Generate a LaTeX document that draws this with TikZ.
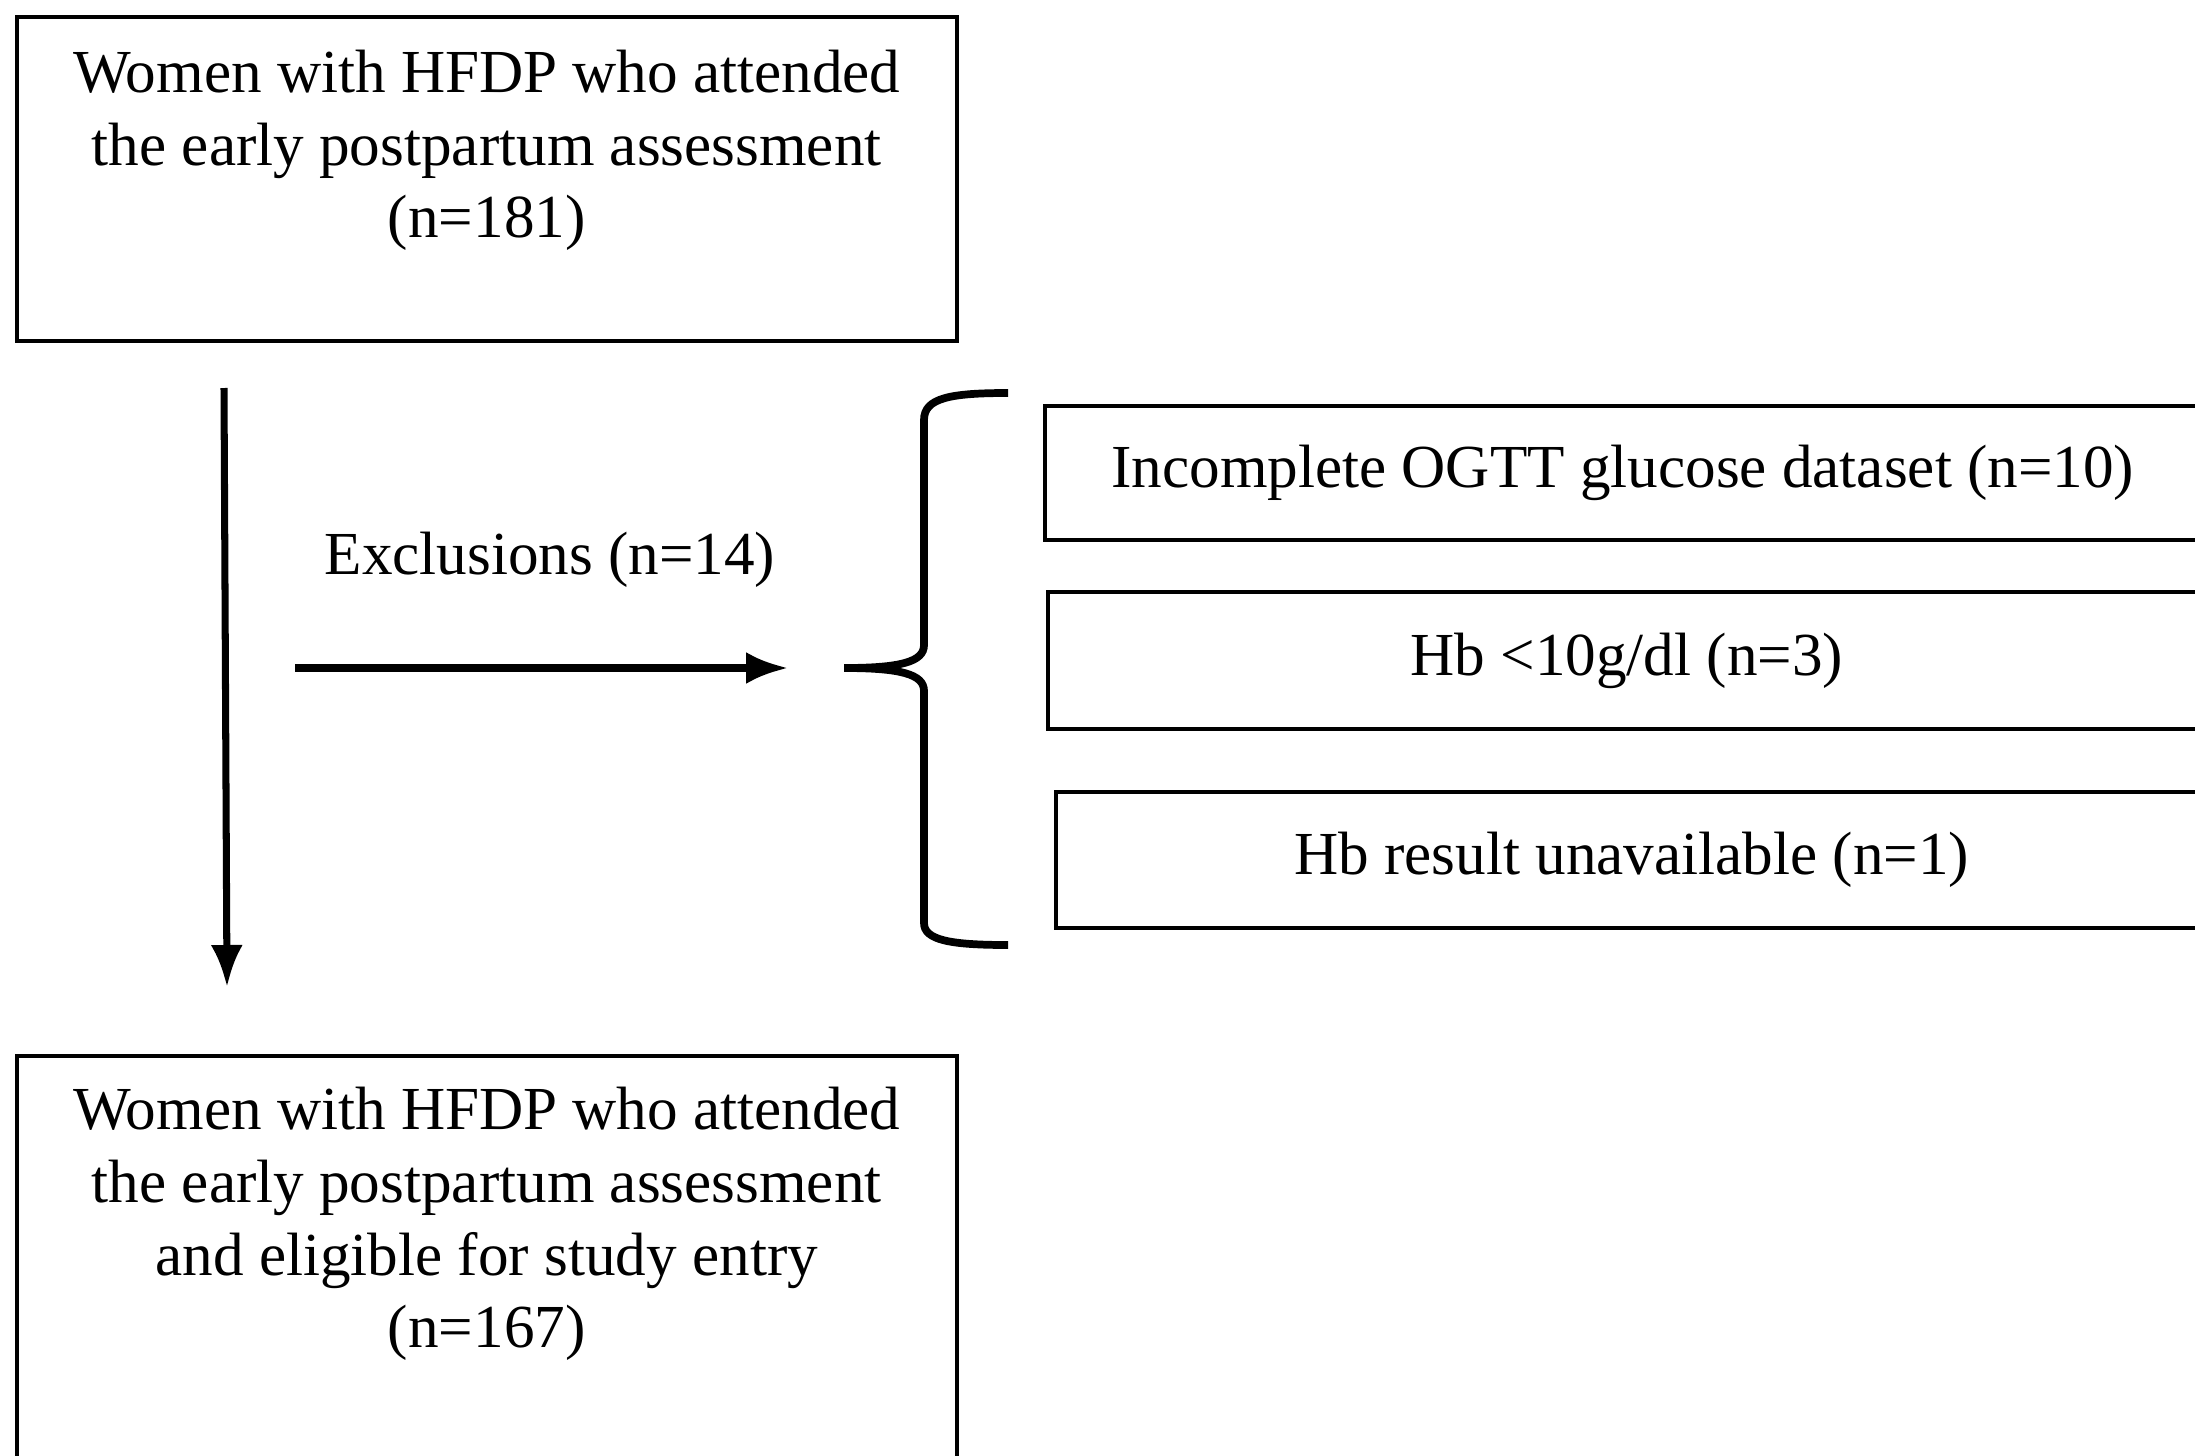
\documentclass[tikz,border=0pt]{standalone}
\usepackage{fontspec}
\setmainfont{Liberation Serif}
\usetikzlibrary{arrows.meta}

\begin{document}
\begin{tikzpicture}[
    caja/.style={draw, line width=1pt, align=center, inner xsep=0pt, inner ysep=0.3cm,
        font=\fontsize{17.4}{20.7}\selectfont},
    flecha/.style={line width=2pt, -{Latex[length=0.42cm, width=0.32cm]}}
  ]
    \useasboundingbox (0,0) rectangle (21.95,-14.55);
    \clip (0,0) rectangle (21.95,-14.55);

    % Cajas principales
    \node[caja, anchor=north west, minimum width=9.4cm, text height=1.91cm, text depth=0.73cm]
        (atendidas) at (0.15,-0.15) {Women with HFDP who attended\\the early postpartum assessment\\(n=181)};
    \node[caja, anchor=north west, minimum width=9.4cm, text height=2.62cm, text depth=2cm]
        (elegibles) at (0.15,-10.54) {Women with HFDP who attended\\the early postpartum assessment\\and eligible for study entry\\(n=167)};

    % Cajas de exclusiones
    \node[caja, anchor=west, minimum width=11.56cm, minimum height=1.34cm]
        (ogtt) at (10.43,-4.73) {Incomplete OGTT glucose dataset (n=10)};
    \node[caja, anchor=west, minimum width=11.58cm, minimum height=1.37cm]
        (hbbajo) at (10.46,-6.605) {Hb <10g/dl (n=3)};
    \node[caja, anchor=west, minimum width=11.52cm, minimum height=1.36cm]
        (hbfalta) at (10.54,-8.60) {Hb result unavailable (n=1)};

    % Flechas
    \coordinate (v1) at (2.24,-3.88);
    \coordinate (v2) at (2.27,-9.87);
    \draw[flecha] (v1) -- (v2);
    \coordinate (h1) at (2.95,-6.68);
    \coordinate (h2) at (7.88,-6.68);
    \draw[flecha] (h1) -- (h2);
    \node[font=\fontsize{17.4}{20.7}\selectfont] (exclusiones) at (5.50,-5.60) {Exclusions (n=14)};

    % Llave
    \draw[line width=2.2pt] (10.08,-3.93) .. controls (9.5,-3.93) and (9.24,-3.98) .. (9.24,-4.2)
        -- (9.24,-6.45) .. controls (9.24,-6.62) and (9.0,-6.68) .. (8.44,-6.68)
        .. controls (9.0,-6.68) and (9.24,-6.74) .. (9.24,-6.91)
        -- (9.24,-9.23) .. controls (9.24,-9.40) and (9.5,-9.45) .. (10.08,-9.45);
\end{tikzpicture}
\end{document}
